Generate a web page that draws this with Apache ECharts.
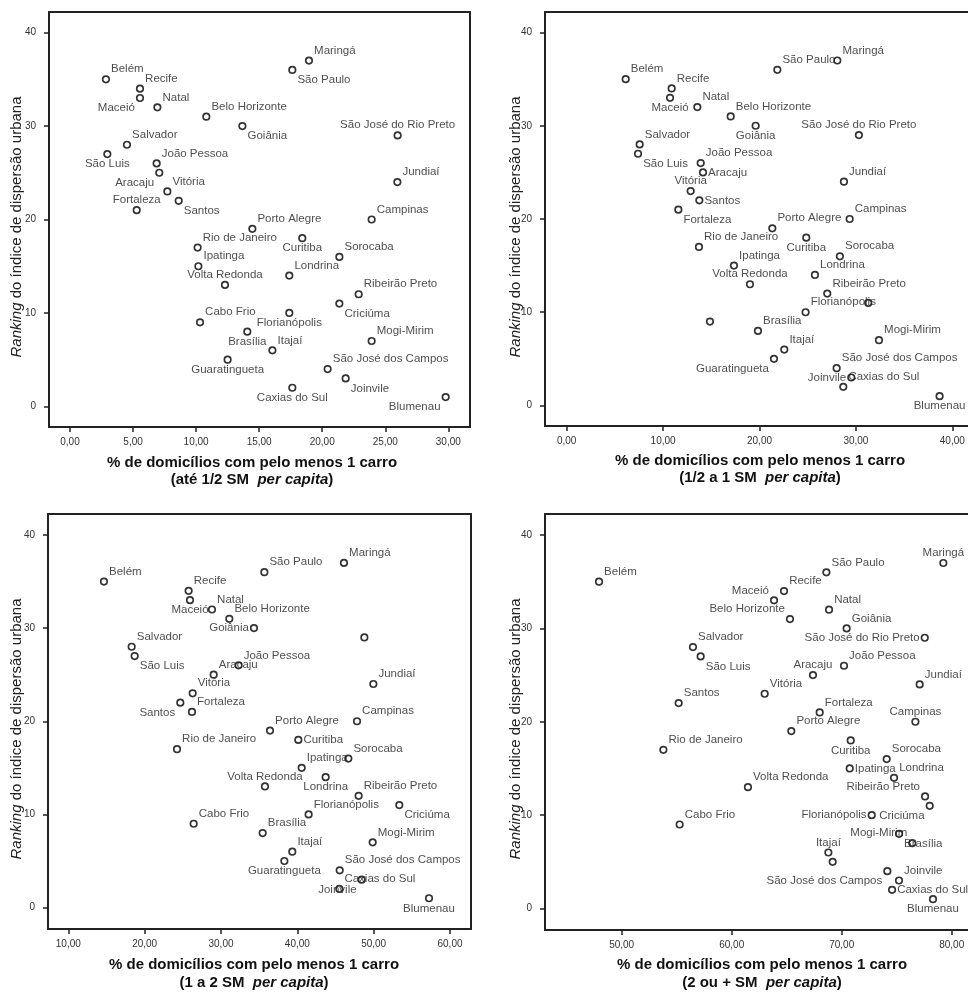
<!DOCTYPE html>
<html>
<head>
<meta charset="utf-8">
<script src="https://cdn.jsdelivr.net/npm/echarts/dist/echarts.min.js"></script>
<style>
html,body{margin:0;padding:0;background:#fff;overflow:hidden;}
#chart{width:1040px;height:992px;}
</style>
</head>
<body>
<div id="chart"></div>
<script>
// ---------- DATA ----------
const cities = ['Maringá','São Paulo','Belém','Recife','Maceió','Natal','Belo Horizonte','Goiânia',
  'São José do Rio Preto','Salvador','São Luis','João Pessoa','Aracaju','Jundiaí','Vitória','Santos',
  'Fortaleza','Campinas','Porto Alegre','Curitiba','Rio de Janeiro','Sorocaba','Ipatinga','Londrina',
  'Volta Redonda','Ribeirão Preto','Criciúma','Florianópolis','Cabo Frio','Brasília','Mogi-Mirim',
  'Itajaí','Guaratingueta','São José dos Campos','Joinvile','Caxias do Sul','Blumenau'];
const ranking = [37,36,35,34,33,32,31,30,29,28,27,26,25,24,23,22,21,20,19,18,17,16,15,14,13,12,11,10,9,8,7,6,5,4,3,2,1];
const pctAteMeio = [18.95,17.63,2.85,5.55,5.55,6.93,10.81,13.67,25.98,4.52,2.96,6.87,7.08,25.96,7.72,8.62,
  5.29,23.92,14.46,18.42,10.12,21.36,10.18,17.39,12.29,22.89,21.36,17.39,10.31,14.06,23.92,16.05,12.5,20.43,21.86,17.63,29.79];
const pctMeioA1 = [28.07,21.85,6.12,10.89,10.72,13.55,17.01,19.6,30.31,7.57,7.40,13.9,14.14,28.76,12.86,13.76,
  11.58,29.35,21.33,24.85,13.72,28.34,17.35,25.75,19.01,27.03,31.28,24.78,14.86,19.84,32.39,22.57,21.5,28.0,29.52,28.69,38.68];
const pct1A2 = [46.11,35.68,14.67,25.76,25.94,28.82,31.09,34.32,48.78,18.3,18.69,32.31,29.04,49.96,26.29,24.67,
  26.2,47.82,36.42,40.13,24.24,46.68,40.57,43.71,35.76,48.03,53.36,41.48,26.42,35.46,49.87,39.34,38.3,45.55,48.43,45.5,57.25];
const pct2Mais = [79.24,68.61,47.94,64.76,63.85,68.85,65.3,70.45,77.55,56.48,57.18,70.21,67.39,77.09,63.0,55.18,
  68.0,76.7,65.42,70.82,53.79,74.09,70.73,74.76,61.48,77.58,78.0,72.73,55.27,75.21,76.42,68.79,69.18,74.15,75.21,74.58,78.3];
const xTicks1 = [0,5,10,15,20,25,30];
const xTicks2 = [0,10,20,30,40];
const xTicks3 = [10,20,30,40,50,60];
const xTicks4 = [50,60,70,80];
const yTicks = [0,10,20,30,40];
const xTitle = '% de domicílios com pelo menos 1 carro';
const xSub = ['(até 1/2 SM  ', '(1/2 a 1 SM  ', '(1 a 2 SM  ', '(2 ou + SM  '];
const yTitleMain = 'Ranking';
const yTitleRest = ' do índice de dispersão urbana';

// ---------- LABEL PLACEMENT (style) ----------
const place1 = ['tr','br','tr','tr','bl','tr','tr','br','t','tr','b','tr','bl','tr','tr','br','t','tr','tr','b','tr','tr','tr','tr','t','tr','br','b','tr','b','tr','tr','b','tr','br','b','bl'];
const place2 = ['tr','tr','tr','tr','b','tr','tr','b','t','tr','br','tr','r','tr','t','r','br','tr','tr','b','tr','tr','tr','tr','t','tr','n','tr','n','tr','tr','tr','bl','tr','l','tr','b'];
const place3 = ['tr','tr','tr','tr','b','tr','tr','l','n','tr','br','tr','tr','tr','tr','bl','tr','tr','tr','r','tr','tr','tr','b','t','tr','br','tr','tr','tr','tr','tr','b','tr','bl','tr','b'];
const place4 = ['t','tr','tr','tr','tl','tr','tl','tr','l','tr','br','tr','t','tr','tr','tr','tr','t','tr','b','tr','tr','r','tr','tr','tl','bl','l','tr','br','tl','t','n','bl','tr','r','b'];

const FONT = '"Liberation Sans", Arial, Helvetica, sans-serif';
const PLACE = {
  tr:{position:'right', distance:1, offset:[0,-10]},
  br:{position:'right', distance:1, offset:[0,10]},
  tl:{position:'left', distance:1, offset:[0,-10]},
  bl:{position:'left', distance:1, offset:[0,10]},
  t:{position:'top', distance:0},
  b:{position:'bottom', distance:0},
  r:{position:'right', distance:1},
  l:{position:'left', distance:1},
  n:{show:false}
};

// right-hand panels run past the window edge (no right border visible in the reference)
const panels = [
  {x:pctAteMeio, place:place1, ticks:xTicks1, xmin:-1.665, xmax:31.72, grid:{left:49, top:12, width:421, height:415}, ymin:-2.2, ymax:42.2,
   tx:252, ty1:463, ty2:480, yx:17, yy:227, rightBorder:true},
  {x:pctMeioA1, place:place2, ticks:xTicks2, xmin:-2.25, xmax:47.02, grid:{left:545, top:12, width:475, height:414}, ymin:-2.2, ymax:42.2,
   tx:760, ty1:461, ty2:478, yx:516, yy:227, rightBorder:false},
  {x:pct1A2, place:place3, ticks:xTicks3, xmin:7.34, xmax:62.75, grid:{left:48, top:514, width:423, height:415}, ymin:-2.3, ymax:42.25,
   tx:254, ty1:965, ty2:983, yx:17, yy:729, rightBorder:true},
  {x:pct2Mais, place:place4, ticks:xTicks4, xmin:43.03, xmax:86.21, grid:{left:545, top:514, width:475, height:416}, ymin:-2.3, ymax:42.25,
   tx:762, ty1:965, ty2:983, yx:516, yy:729, rightBorder:false}
];

const LINE = {color:'#222', width:2};
const grids = [], xAxes = [], yAxes = [], series = [], graphics = [];
panels.forEach((p, k) => {
  grids.push(Object.assign({show:false}, p.grid));
  const xi = xAxes.length, yi = yAxes.length;
  xAxes.push({
    type:'value', gridIndex:k, min:p.xmin, max:p.xmax, position:'bottom',
    axisLine:{show:true, onZero:false, lineStyle:LINE},
    axisTick:{show:true, inside:false, length:5, customValues:p.ticks, lineStyle:{color:'#222', width:1.5}},
    axisLabel:{show:true, customValues:p.ticks, margin:10, fontSize:10, color:'#333', fontFamily:FONT,
      formatter:v => v.toFixed(2).replace('.', ',')},
    splitLine:{show:false}
  });
  xAxes.push({
    type:'value', gridIndex:k, min:p.xmin, max:p.xmax, position:'top',
    axisLine:{show:true, onZero:false, lineStyle:LINE},
    axisTick:{show:false}, axisLabel:{show:false}, splitLine:{show:false}
  });
  yAxes.push({
    type:'value', gridIndex:k, min:p.ymin, max:p.ymax, position:'left',
    axisLine:{show:true, onZero:false, lineStyle:LINE},
    axisTick:{show:true, inside:false, length:5, customValues:yTicks, lineStyle:{color:'#222', width:1.5}},
    axisLabel:{show:true, customValues:yTicks, margin:13, fontSize:10, color:'#333', fontFamily:FONT},
    splitLine:{show:false}
  });
  yAxes.push({
    type:'value', gridIndex:k, min:p.ymin, max:p.ymax, position:'right',
    axisLine:{show:p.rightBorder, onZero:false, lineStyle:LINE},
    axisTick:{show:false}, axisLabel:{show:false}, splitLine:{show:false}
  });
  series.push({
    type:'scatter', xAxisIndex:xi, yAxisIndex:yi,
    symbol:'circle', symbolSize:6.5,
    itemStyle:{color:'#fff', borderColor:'#000', borderWidth:1.7},
    label:{show:true, formatter:'{b}', fontSize:11.5, color:'#222', fontFamily:FONT},
    emphasis:{disabled:true},
    data: cities.map((c, i) => ({name:c, value:[p.x[i], ranking[i]], label:Object.assign({}, PLACE[p.place[i]])}))
  });
  graphics.push({
    type:'text', x:p.tx, y:p.ty1,
    style:{text:xTitle, fontSize:15, fontWeight:'bold', fontFamily:FONT, fill:'#111', align:'center', verticalAlign:'middle'}
  });
  graphics.push({
    type:'text', x:p.tx, y:p.ty2,
    style:{text:xSub[k] + '{bi|per capita})', fontSize:15, fontWeight:'bold', fontFamily:FONT, fill:'#111', align:'center', verticalAlign:'middle',
      rich:{bi:{fontSize:15, fontWeight:'bold', fontStyle:'italic', fontFamily:FONT, fill:'#111'}}}
  });
  graphics.push({
    type:'text', x:p.yx, y:p.yy, rotation:Math.PI/2,
    style:{text:'{i|' + yTitleMain + '}' + yTitleRest, fontSize:15, fontFamily:FONT, fill:'#222', align:'center', verticalAlign:'middle',
      rich:{i:{fontSize:15, fontStyle:'italic', fontFamily:FONT, fill:'#222'}}}
  });
});

const chart = echarts.init(document.getElementById('chart'), null, {renderer:'canvas'});
chart.setOption({
  animation:false,
  backgroundColor:'#fff',
  grid:grids, xAxis:xAxes, yAxis:yAxes, series:series, graphic:graphics
});
</script>
</body>
</html>
